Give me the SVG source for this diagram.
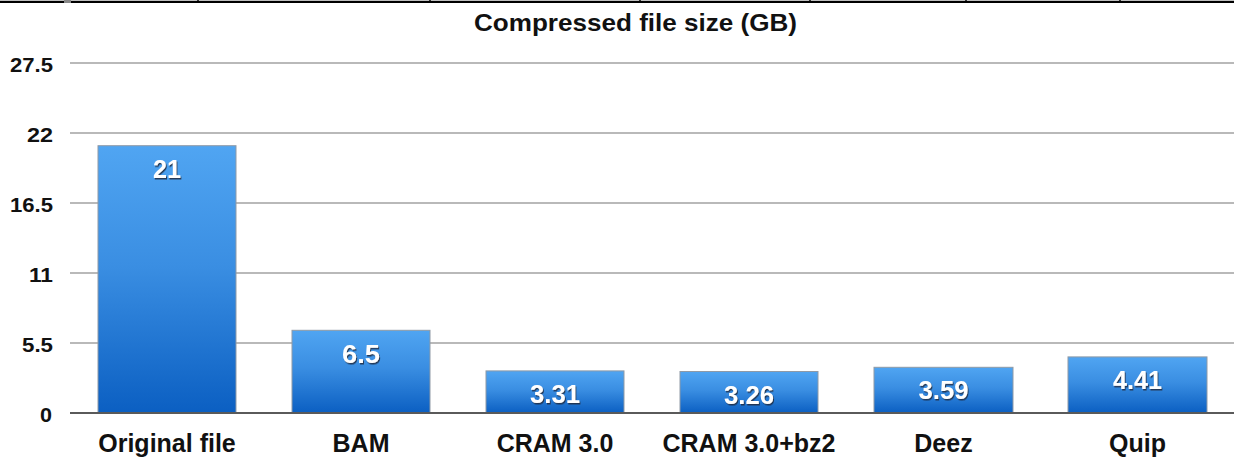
<svg xmlns="http://www.w3.org/2000/svg" width="1234" height="461" viewBox="0 0 1234 461">
  <style>
    .grid { stroke: #b9b9b9; stroke-width: 2; }
    .base { stroke: #5a5a5a; stroke-width: 2; }
    .bar { fill: url(#barGrad); stroke: #8f9aa6; stroke-width: 1; }
    .axis { font-family: "Liberation Sans", Arial, sans-serif; font-weight: bold; font-size: 21px; fill: #111; text-anchor: end; }
    .cat { font-family: "Liberation Sans", Arial, sans-serif; font-weight: bold; font-size: 25px; fill: #111; text-anchor: middle; }
    .val { font-family: "Liberation Sans", Arial, sans-serif; font-weight: bold; font-size: 25px; fill: #ffffff; text-anchor: middle; filter: url(#shadow); }
    .title { font-family: "Liberation Sans", Arial, sans-serif; font-weight: bold; font-size: 24px; fill: #111; }
    .tick { stroke: #000; stroke-width: 1.5; }
  </style>
  <defs>
    <linearGradient id="barGrad" x1="0" y1="0" x2="0" y2="1">
      <stop offset="0" stop-color="#50a5f2"/>
      <stop offset="0.45" stop-color="#3a8ee2"/>
      <stop offset="1" stop-color="#0b5fc2"/>
    </linearGradient>
    <filter id="shadow" x="-20%" y="-20%" width="140%" height="140%">
      <feDropShadow dx="1" dy="1.5" stdDeviation="0.6" flood-color="#1a2a40" flood-opacity="0.85"/>
    </filter>
  </defs>
  <rect width="1234" height="461" fill="#ffffff"/>

  <g id="top-border">
    <line x1="0" y1="1.8" x2="1234" y2="1.8" stroke="#000" stroke-width="2.2"/>
    <rect x="64" y="0" width="7" height="3" fill="#888"/>
    <line class="tick" x1="198" y1="0" x2="198" y2="3"/>
    <line class="tick" x1="430" y1="0" x2="430" y2="3"/>
    <line class="tick" x1="640" y1="0" x2="640" y2="3"/>
    <line class="tick" x1="810" y1="0" x2="810" y2="3"/>
    <line class="tick" x1="966" y1="0" x2="966" y2="3"/>
    <line class="tick" x1="1120" y1="0" x2="1120" y2="3"/>
  </g>

  <text id="title" class="title" x="474" y="31" textLength="323" lengthAdjust="spacingAndGlyphs">Compressed file size (GB)</text>

  <g id="grid">
    <line class="grid" x1="70" y1="63" x2="1234" y2="63"/>
    <line class="grid" x1="70" y1="133" x2="1234" y2="133"/>
    <line class="grid" x1="70" y1="203" x2="1234" y2="203"/>
    <line class="grid" x1="70" y1="273" x2="1234" y2="273"/>
    <line class="grid" x1="70" y1="343" x2="1234" y2="343"/>
  </g>

  <g id="y-axis">
    <text class="axis" x="53" y="71.5" textLength="43" lengthAdjust="spacingAndGlyphs">27.5</text>
    <text class="axis" x="53" y="141.5" textLength="26" lengthAdjust="spacingAndGlyphs">22</text>
    <text class="axis" x="53" y="211.5" textLength="43" lengthAdjust="spacingAndGlyphs">16.5</text>
    <text class="axis" x="53" y="281.5" textLength="24" lengthAdjust="spacingAndGlyphs">11</text>
    <text class="axis" x="53" y="351.5" textLength="31" lengthAdjust="spacingAndGlyphs">5.5</text>
    <text class="axis" x="52" y="421.5" textLength="12" lengthAdjust="spacingAndGlyphs">0</text>
  </g>

  <g id="bar-original">
    <rect class="bar" x="98" y="145.7" width="138" height="267.3"/>
    <text class="val" x="167" y="177.5" textLength="28" lengthAdjust="spacingAndGlyphs">21</text>
    <text class="cat" x="167" y="452">Original file</text>
  </g>
  <g id="bar-bam">
    <rect class="bar" x="292" y="330.3" width="138" height="82.7"/>
    <text class="val" x="361" y="363" textLength="38" lengthAdjust="spacingAndGlyphs">6.5</text>
    <text class="cat" x="361" y="452">BAM</text>
  </g>
  <g id="bar-cram">
    <rect class="bar" x="486" y="370.9" width="138" height="42.1"/>
    <text class="val" x="555" y="403" textLength="50" lengthAdjust="spacingAndGlyphs">3.31</text>
    <text class="cat" x="555" y="452">CRAM 3.0</text>
  </g>
  <g id="bar-cram-bz2">
    <rect class="bar" x="680" y="371.5" width="138" height="41.5"/>
    <text class="val" x="749" y="403.5" textLength="50" lengthAdjust="spacingAndGlyphs">3.26</text>
    <text class="cat" x="749" y="452">CRAM 3.0+bz2</text>
  </g>
  <g id="bar-deez">
    <rect class="bar" x="874" y="367.3" width="139" height="45.7"/>
    <text class="val" x="943.5" y="399.3" textLength="50" lengthAdjust="spacingAndGlyphs">3.59</text>
    <text class="cat" x="943.5" y="452">Deez</text>
  </g>
  <g id="bar-quip">
    <rect class="bar" x="1068" y="356.9" width="139" height="56.1"/>
    <text class="val" x="1137.5" y="389" textLength="49" lengthAdjust="spacingAndGlyphs">4.41</text>
    <text class="cat" x="1137.5" y="452">Quip</text>
  </g>

  <g id="connectors">
    <line class="base" x1="70" y1="413" x2="1234" y2="413"/>
  </g>
</svg>
